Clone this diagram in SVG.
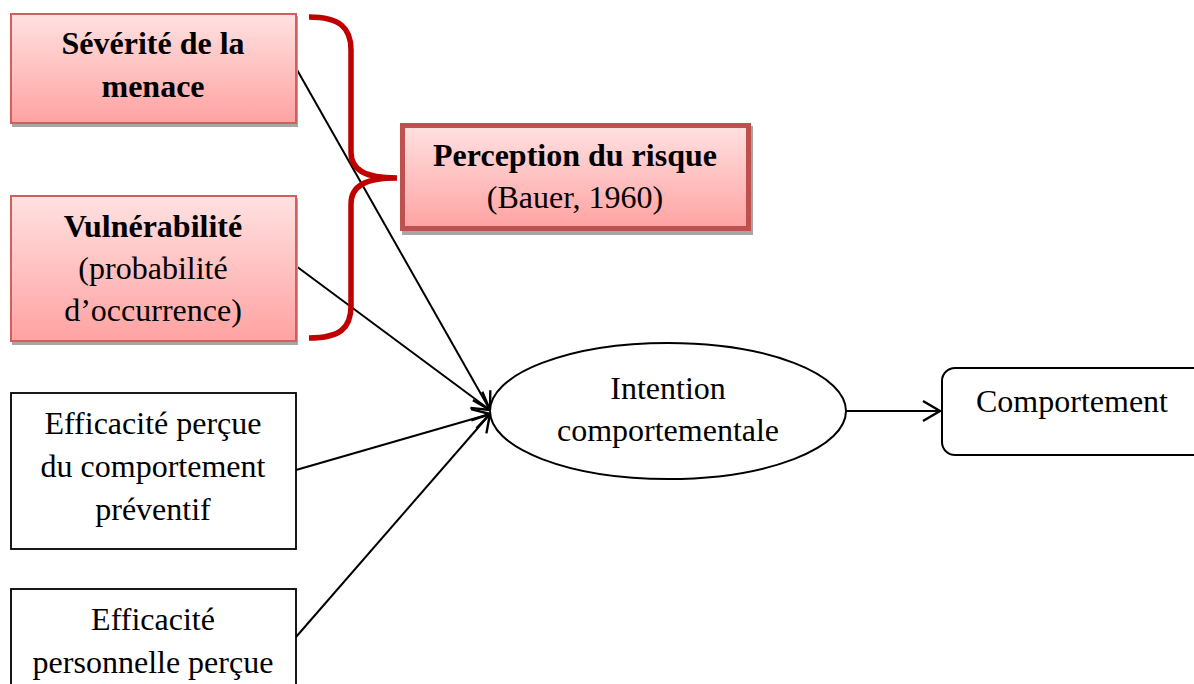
<svg xmlns="http://www.w3.org/2000/svg" width="1194" height="684" viewBox="0 0 1194 684">
<defs>
<linearGradient id="pink" x1="0" y1="0" x2="0" y2="1">
<stop offset="0" stop-color="#FFE1E1"/>
<stop offset="1" stop-color="#FFA2A2"/>
</linearGradient>
<marker id="arr" markerWidth="24" markerHeight="24" refX="20" refY="12" orient="auto" markerUnits="userSpaceOnUse">
<path d="M3,2 L20,12 L3,22" fill="none" stroke="#000" stroke-width="2.4"/>
</marker>
<style>
text{font-family:"Liberation Serif","Times New Roman",serif;font-size:32px;fill:#000;text-anchor:middle}
.b{font-weight:bold}
.pink{fill:url(#pink);stroke:#D0605E;stroke-width:2}
.shadow{fill:#A6A6A6}
.plain{fill:#fff;stroke:#000;stroke-width:1.8}
.conn{stroke:#000;stroke-width:2;fill:none}
</style>
</defs>
<rect width="1194" height="684" fill="#fff"/>
<g id="connectors">
<line class="conn" x1="296" y1="68" x2="490" y2="410" marker-end="url(#arr)"/>
<line class="conn" x1="296" y1="266" x2="490" y2="410" marker-end="url(#arr)"/>
<line class="conn" x1="296" y1="470" x2="490" y2="414" marker-end="url(#arr)"/>
<line class="conn" x1="296" y1="637" x2="490" y2="414" marker-end="url(#arr)"/>
<line class="conn" x1="846" y1="411" x2="940" y2="411" marker-end="url(#arr)"/>
</g>
<g id="brace">
<path d="M309,17 C340,17 351,28 351,50 L351,152 C351,170 365,178 397,178 C365,178 351,186 351,204 L351,306 C351,328 340,338 309,338" fill="none" stroke="#C00000" stroke-width="5.5"/>
</g>
<g id="severite">
<rect class="shadow" x="12" y="16" width="286" height="111"/>
<rect class="pink" x="11" y="14" width="285" height="109"/>
<text class="b" x="153" y="54">Sévérité de la</text>
<text class="b" x="153" y="97">menace</text>
</g>
<g id="vulnerabilite">
<rect class="shadow" x="12" y="198" width="286" height="147"/>
<rect class="pink" x="11" y="196" width="285" height="145"/>
<text class="b" x="153" y="237">Vulnérabilité</text>
<text x="153" y="279">(probabilité</text>
<text x="153" y="321">d’occurrence)</text>
</g>
<g id="perception">
<rect class="shadow" x="402" y="126" width="351" height="109"/>
<rect x="402.5" y="125.5" width="346" height="103" fill="url(#pink)" stroke="#C0504D" stroke-width="5"/>
<text class="b" x="575" y="166">Perception du risque</text>
<text x="575" y="208">(Bauer, 1960)</text>
</g>
<g id="efficacite-comportement">
<rect class="plain" x="11" y="393" width="285" height="156"/>
<text x="153" y="434">Efficacité perçue</text>
<text x="153" y="477">du comportement</text>
<text x="153" y="520">préventif</text>
</g>
<g id="efficacite-personnelle">
<rect class="plain" x="11" y="589" width="285" height="110"/>
<text x="153" y="630">Efficacité</text>
<text x="153" y="673">personnelle perçue</text>
</g>
<g id="intention">
<ellipse cx="668" cy="411" rx="178" ry="68" fill="#fff" stroke="#000" stroke-width="2"/>
<text x="668" y="399">Intention</text>
<text x="668" y="441">comportementale</text>
</g>
<g id="comportement">
<rect x="942" y="368" width="270" height="87" rx="13" fill="#fff" stroke="#000" stroke-width="2"/>
<text x="1072" y="412">Comportement</text>
</g>
</svg>
